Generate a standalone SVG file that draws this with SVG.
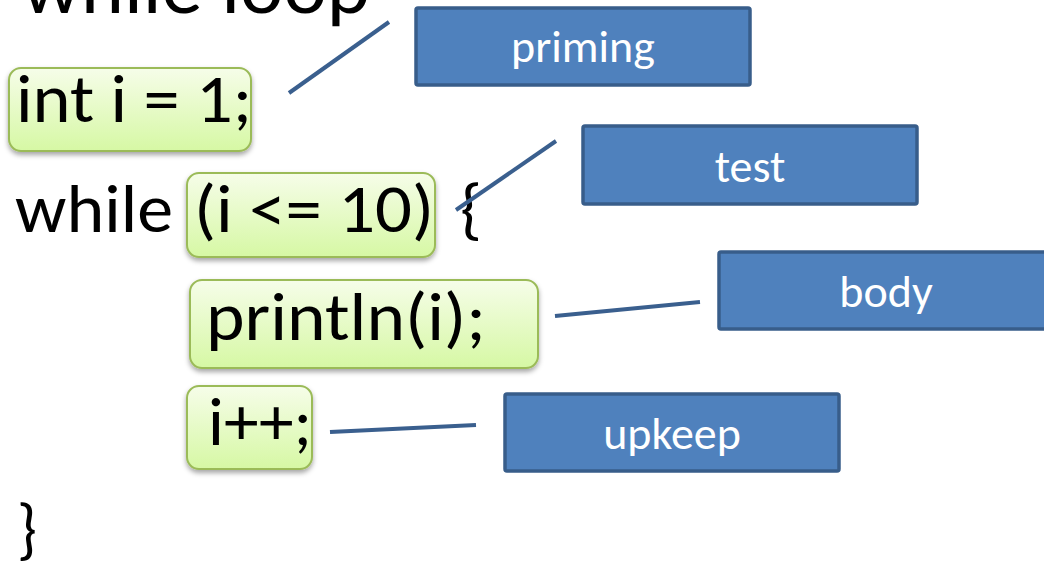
<svg xmlns="http://www.w3.org/2000/svg" width="1044" height="563" viewBox="0 0 1044 563">
  <defs>
    <linearGradient id="greenFill" x1="0" y1="0" x2="0" y2="1">
      <stop offset="0" stop-color="#f6fde9"/>
      <stop offset="1" stop-color="#d6f8a4"/>
    </linearGradient>
    <filter id="shadow" x="-10%" y="-10%" width="120%" height="130%">
      <feDropShadow dx="0" dy="3" stdDeviation="2.5" flood-color="#000" flood-opacity="0.35"/>
    </filter>
  </defs>
  <style>
    .code { font-family: Calibri, Carlito, Lato, "Liberation Sans", sans-serif; font-size: 68px; fill: #000; }
    .title { font-family: Calibri, Carlito, Lato, "Liberation Sans", sans-serif; font-size: 80px; fill: #000; }
    .hl { fill: url(#greenFill); stroke: #9bbb59; stroke-width: 2; filter: url(#shadow); }
    .tag rect { fill: #4f81bd; stroke: #385d8a; stroke-width: 3.5; }
    .tag text { font-family: Calibri, Carlito, Lato, "Liberation Sans", sans-serif; font-size: 46px; fill: #fff; text-anchor: middle; }
    .conn line { stroke: #3a5f8e; stroke-width: 4; }
  </style>
  <rect width="1044" height="563" fill="#fff"/>

  <!-- heading, clipped by the top edge -->
  <text class="title" x="22" y="13" textLength="348" lengthAdjust="spacingAndGlyphs">while loop</text>

  <!-- highlighted code parts -->
  <g id="init">
    <rect class="hl" x="9" y="68" width="242" height="83" rx="12"/>
    <text class="code" x="16" y="122" textLength="236" lengthAdjust="spacingAndGlyphs">int i = 1;</text>
  </g>
  <text class="code" x="15" y="232" textLength="158" lengthAdjust="spacingAndGlyphs">while</text>
  <g id="cond">
    <rect class="hl" x="187" y="173" width="248" height="84" rx="12"/>
    <text class="code" x="194" y="232" textLength="240" lengthAdjust="spacingAndGlyphs">(i &lt;= 10)</text>
  </g>
  <text class="code" x="460" y="232" textLength="22" lengthAdjust="spacingAndGlyphs">{</text>
  <g id="print">
    <rect class="hl" x="190" y="280" width="348" height="88" rx="12"/>
    <text class="code" x="206" y="340" textLength="280" lengthAdjust="spacingAndGlyphs">println(i);</text>
  </g>
  <g id="incr">
    <rect class="hl" x="187" y="386" width="125" height="83" rx="12"/>
    <text class="code" x="208" y="445" textLength="104" lengthAdjust="spacingAndGlyphs">i++;</text>
  </g>
  <text class="code" x="17" y="552" textLength="20" lengthAdjust="spacingAndGlyphs">}</text>

  <!-- labels -->
  <g id="priming" class="tag">
    <rect x="416" y="8" width="334" height="77" rx="2"/>
    <text x="583" y="62">priming</text>
  </g>
  <g id="test" class="tag">
    <rect x="583" y="126" width="334" height="78" rx="2"/>
    <text x="750" y="182">test</text>
  </g>
  <g id="body" class="tag">
    <rect x="719" y="252" width="334" height="77" rx="2"/>
    <text x="886" y="307">body</text>
  </g>
  <g id="upkeep" class="tag">
    <rect x="505" y="394" width="334" height="77" rx="2"/>
    <text x="672" y="449">upkeep</text>
  </g>

  <!-- connectors -->
  <g id="connectors" class="conn">
    <line x1="289" y1="93" x2="389" y2="22"/>
    <line x1="456" y1="210" x2="556" y2="141"/>
    <line x1="555" y1="316" x2="700" y2="302"/>
    <line x1="330" y1="432" x2="476" y2="425"/>
  </g>
</svg>
